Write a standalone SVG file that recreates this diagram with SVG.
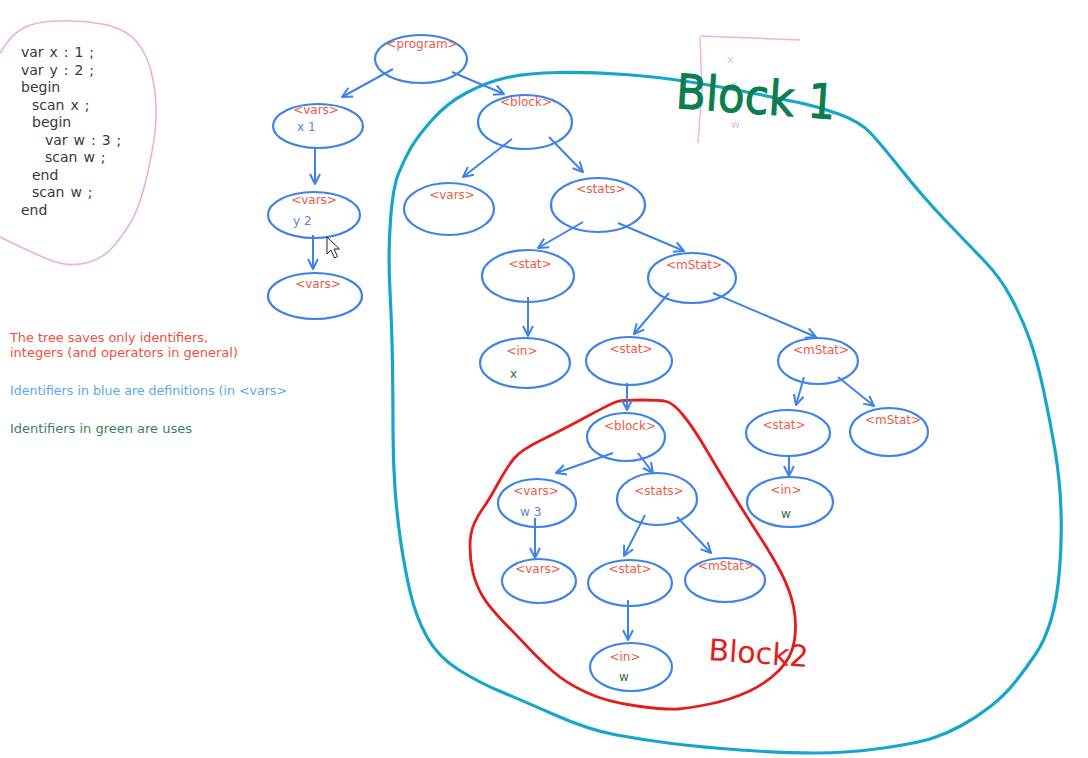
<svg xmlns="http://www.w3.org/2000/svg" width="1088" height="758" viewBox="0 0 1088 758">
<defs>
<style>
.nd ellipse{fill:none;stroke:#3d84e6;stroke-width:2.2}
.lb{font-family:"DejaVu Sans",sans-serif;font-size:12px;fill:#ec5a48;text-anchor:middle}
.sb{font-family:"DejaVu Sans",sans-serif;font-size:12px;fill:#5b86d0}
.sg{font-family:"DejaVu Sans",sans-serif;font-size:12px;fill:#2f6e48}
.code{font-family:"DejaVu Sans",sans-serif;font-size:14px;fill:#3a3a3a;word-spacing:1.5px}
.cn line{stroke:#3d84e6;stroke-width:2;marker-end:url(#ah)}
.note{font-family:"DejaVu Sans",sans-serif;font-size:12px}
</style>
<marker id="ah" viewBox="0 0 12 12" refX="11" refY="6" markerWidth="12" markerHeight="12" markerUnits="userSpaceOnUse" orient="auto">
<path d="M1,1 L11,6 L1,11" fill="none" stroke="#3d84e6" stroke-width="2" stroke-linejoin="round"/>
</marker>
</defs>
<rect width="1088" height="758" fill="#ffffff"/>

<!-- pink annotation around code -->
<path d="M0,53 L6,44 Q12,35 22.5,28.5 Q33,22 56.5,21 Q80,20 102.5,24 Q125,28 136.5,41.5 Q148,55 152.5,77.5 Q157,100 156,120 Q155,140 147.5,173.5 Q140,207 130,223.5 Q120,240 110,250 Q100,260 83.5,263.5 Q67,267 50,260 Q33,253 16.5,245 L0,237" fill="none" stroke="#eaaee8" stroke-width="1.6" stroke-linejoin="round"/>
<g id="code" class="code">
<text x="21" y="57">var x : 1 ;</text>
<text x="21" y="74.5">var y : 2 ;</text>
<text x="21" y="92">begin</text>
<text x="32" y="109.5">scan x ;</text>
<text x="32" y="127">begin</text>
<text x="45" y="144.5">var w : 3 ;</text>
<text x="45" y="162">scan w ;</text>
<text x="32" y="179.5">end</text>
<text x="32" y="197">scan w ;</text>
<text x="21" y="214.5">end</text>
</g>

<g id="notes" class="note">
<text x="10" y="342" fill="#f0503e" textLength="198" lengthAdjust="spacingAndGlyphs">The tree saves only identifiers,</text>
<text x="10" y="357" fill="#f0503e" textLength="228" lengthAdjust="spacingAndGlyphs">integers (and operators in general)</text>
<text x="10" y="395" fill="#5aa8ee" textLength="277" lengthAdjust="spacingAndGlyphs">Identifiers in blue are definitions (in &lt;vars&gt;</text>
<text x="10" y="433" fill="#3a8558" textLength="182" lengthAdjust="spacingAndGlyphs">Identifiers in green are uses</text>
</g>

<!-- pink faint marks near Block 1 -->
<g id="pinkmarks" fill="none" stroke="#eab0ea" stroke-width="1.4">
<path d="M700,36 L800,40"/>
<path d="M700,37 L702,90 L698,143"/>
</g>
<g font-family="DejaVu Sans,sans-serif" font-size="11" fill="#eab0ea">
<text x="727" y="63">x</text>
<text x="731" y="88">x</text>
<text x="731" y="128">w</text>
</g>

<!-- Block outlines -->
<path id="block1outline" d="M392.5,365 Q392,330 390,291.5 Q388,253 390.5,220 Q393,187 398.5,173.5 Q404,160 410.5,148.5 Q417,137 432,120 Q447,103 467,92.5 Q487,82 507,77.5 Q527,73 558.5,72.5 Q590,72 625,74.5 Q660,77 693.5,82.5 Q727,88 752,93 Q777,98 798.5,102.5 Q820,107 840,114.5 Q860,122 870,132.5 Q880,143 901.5,170 Q923,197 945,220 Q967,243 983.5,260 Q1000,277 1011,297.5 Q1022,318 1029.5,339 Q1037,360 1043.5,390 Q1050,420 1055,450 Q1060,480 1061,510 Q1062,540 1059.5,570 Q1057,600 1051,620 Q1045,640 1036,653.5 Q1027,667 1016,681 Q1005,695 991,706 Q977,717 962.5,725 Q948,733 933,738 Q918,743 883.5,748 Q849,753 815,753 Q781,753 740.5,750 Q700,747 672,743.5 Q644,740 616.5,735 Q589,730 555,715 Q521,700 500.5,691.5 Q480,683 459,670 Q438,657 427,637 Q416,617 410.5,593.5 Q405,570 401,543.5 Q397,517 395,488.5 Q393,460 393,430 Q393,400 392.5,365 Z" fill="none" stroke="#16a6cc" stroke-width="3.2" stroke-linejoin="round"/>
<path id="block2outline" d="M587,416.5 Q612,403 617.5,401.5 Q623,400 641.5,400 Q660,400 666.5,401.5 Q673,403 683,415 Q693,427 706.5,450 Q720,473 733.5,495 Q747,517 760,537 Q773,557 781.5,573.5 Q790,590 793.5,606.5 Q797,623 794.5,640 Q792,657 779.5,670 Q767,683 748.5,691.5 Q730,700 710,704 Q690,708 678.5,709 Q667,710 637,706 Q607,702 586.5,692.5 Q566,683 553,671.5 Q540,660 530.5,650 Q521,640 505,623.5 Q489,607 482.5,596 Q476,585 473,572.5 Q470,560 470,546.5 Q470,533 474,524 Q478,515 483.5,507.5 Q489,500 498,483.5 Q507,467 514,458.5 Q521,450 541.5,440 Q562,430 587,416.5 Z" fill="none" stroke="#e41c1c" stroke-width="2.8" stroke-linejoin="round"/>

<!-- connectors -->
<g id="connectors" class="cn">
<line x1="393" y1="69" x2="342" y2="97"/>
<line x1="452" y1="72" x2="504" y2="94"/>
<line x1="315" y1="148" x2="315" y2="184"/>
<line x1="313" y1="235" x2="313" y2="269"/>
<line x1="512" y1="139" x2="463" y2="177"/>
<line x1="549" y1="137" x2="583" y2="172"/>
<line x1="583" y1="222" x2="538" y2="248"/>
<line x1="618" y1="223" x2="684" y2="251"/>
<line x1="528" y1="297" x2="528" y2="336"/>
<line x1="669" y1="293" x2="634" y2="334"/>
<line x1="713" y1="293" x2="816" y2="337"/>
<line x1="627" y1="383" x2="627" y2="410"/>
<line x1="804" y1="377" x2="796" y2="405"/>
<line x1="838" y1="377" x2="874" y2="406"/>
<line x1="789" y1="455" x2="789" y2="476"/>
<line x1="613" y1="453" x2="556" y2="473"/>
<line x1="638" y1="453" x2="653" y2="473"/>
<line x1="535" y1="518" x2="535" y2="558"/>
<line x1="645" y1="515" x2="624" y2="556"/>
<line x1="677" y1="517" x2="711" y2="553"/>
<line x1="628" y1="600" x2="628" y2="640"/>
</g>

<!-- nodes -->
<g id="n_program" class="nd"><ellipse cx="421" cy="59" rx="46" ry="24"/><text class="lb" x="422" y="48">&lt;program&gt;</text></g>
<g id="n_vars1" class="nd"><ellipse cx="318" cy="126" rx="45" ry="22"/><text class="lb" x="316" y="114">&lt;vars&gt;</text><text class="sb" x="297" y="131">x 1</text></g>
<g id="n_vars2" class="nd"><ellipse cx="314" cy="215" rx="46" ry="23"/><text class="lb" x="314" y="204">&lt;vars&gt;</text><text class="sb" x="293" y="225">y 2</text></g>
<g id="n_vars3" class="nd"><ellipse cx="315" cy="296" rx="47" ry="23"/><text class="lb" x="318" y="288">&lt;vars&gt;</text></g>
<g id="n_block" class="nd"><ellipse cx="525" cy="122" rx="47" ry="27"/><text class="lb" x="526" y="106">&lt;block&gt;</text></g>
<g id="n_vars4" class="nd"><ellipse cx="449" cy="209" rx="45" ry="26"/><text class="lb" x="452" y="199">&lt;vars&gt;</text></g>
<g id="n_stats" class="nd"><ellipse cx="598" cy="205" rx="47" ry="27"/><text class="lb" x="601" y="193">&lt;stats&gt;</text></g>
<g id="n_stat1" class="nd"><ellipse cx="528" cy="276" rx="46" ry="26"/><text class="lb" x="530" y="268">&lt;stat&gt;</text></g>
<g id="n_mstat1" class="nd"><ellipse cx="692" cy="278" rx="44" ry="25"/><text class="lb" x="694" y="269">&lt;mStat&gt;</text></g>
<g id="n_in1" class="nd"><ellipse cx="525" cy="363" rx="45" ry="25"/><text class="lb" x="522" y="355">&lt;in&gt;</text><text class="sg" x="510" y="378">x</text></g>
<g id="n_stat2" class="nd"><ellipse cx="629" cy="361" rx="43" ry="24"/><text class="lb" x="631" y="353">&lt;stat&gt;</text></g>
<g id="n_mstat2" class="nd"><ellipse cx="818" cy="361" rx="40" ry="23"/><text class="lb" x="821" y="354">&lt;mStat&gt;</text></g>
<g id="n_stat3" class="nd"><ellipse cx="788" cy="433" rx="42" ry="23"/><text class="lb" x="784" y="429">&lt;stat&gt;</text></g>
<g id="n_mstat3" class="nd"><ellipse cx="889" cy="432" rx="39" ry="24"/><text class="lb" x="893" y="424">&lt;mStat&gt;</text></g>
<g id="n_in2" class="nd"><ellipse cx="790" cy="502" rx="43" ry="25"/><text class="lb" x="786" y="494">&lt;in&gt;</text><text class="sg" x="781" y="518">w</text></g>
<g id="n_block2" class="nd"><ellipse cx="626" cy="437" rx="39" ry="24"/><text class="lb" x="630" y="430">&lt;block&gt;</text></g>
<g id="n_vars5" class="nd"><ellipse cx="537" cy="503" rx="39" ry="24"/><text class="lb" x="536" y="495">&lt;vars&gt;</text><text class="sb" x="520" y="516">w 3</text></g>
<g id="n_stats2" class="nd"><ellipse cx="657" cy="499" rx="40" ry="26"/><text class="lb" x="659" y="495">&lt;stats&gt;</text></g>
<g id="n_vars6" class="nd"><ellipse cx="539" cy="581" rx="37" ry="22"/><text class="lb" x="538" y="573">&lt;vars&gt;</text></g>
<g id="n_stat4" class="nd"><ellipse cx="630" cy="583" rx="42" ry="23"/><text class="lb" x="630" y="573">&lt;stat&gt;</text></g>
<g id="n_mstat4" class="nd"><ellipse cx="725" cy="580" rx="40" ry="22"/><text class="lb" x="726" y="570">&lt;mStat&gt;</text></g>
<g id="n_in3" class="nd"><ellipse cx="631" cy="667" rx="41" ry="24"/><text class="lb" x="625" y="661">&lt;in&gt;</text><text class="sg" x="619" y="681">w</text></g>

<!-- handwritten labels -->
<text id="block1label" x="675" y="108" transform="rotate(4 675 108)" font-family="DejaVu Sans,sans-serif" font-size="48" fill="#0b7d4e" stroke="#0b7d4e" stroke-width="1" textLength="160" lengthAdjust="spacingAndGlyphs">Block 1</text>
<text id="block2label" x="708" y="660" transform="rotate(4 708 660)" font-family="DejaVu Sans,sans-serif" font-size="30" fill="#e41c1c" textLength="100" lengthAdjust="spacingAndGlyphs">Block2</text>

<!-- mouse cursor -->
<path d="M327,237 L327,254 L331,250 L334.5,258 L337.5,256.5 L334,249 L339.5,249 Z" fill="#ffffff" stroke="#222" stroke-width="1" stroke-linejoin="round"/>
</svg>
